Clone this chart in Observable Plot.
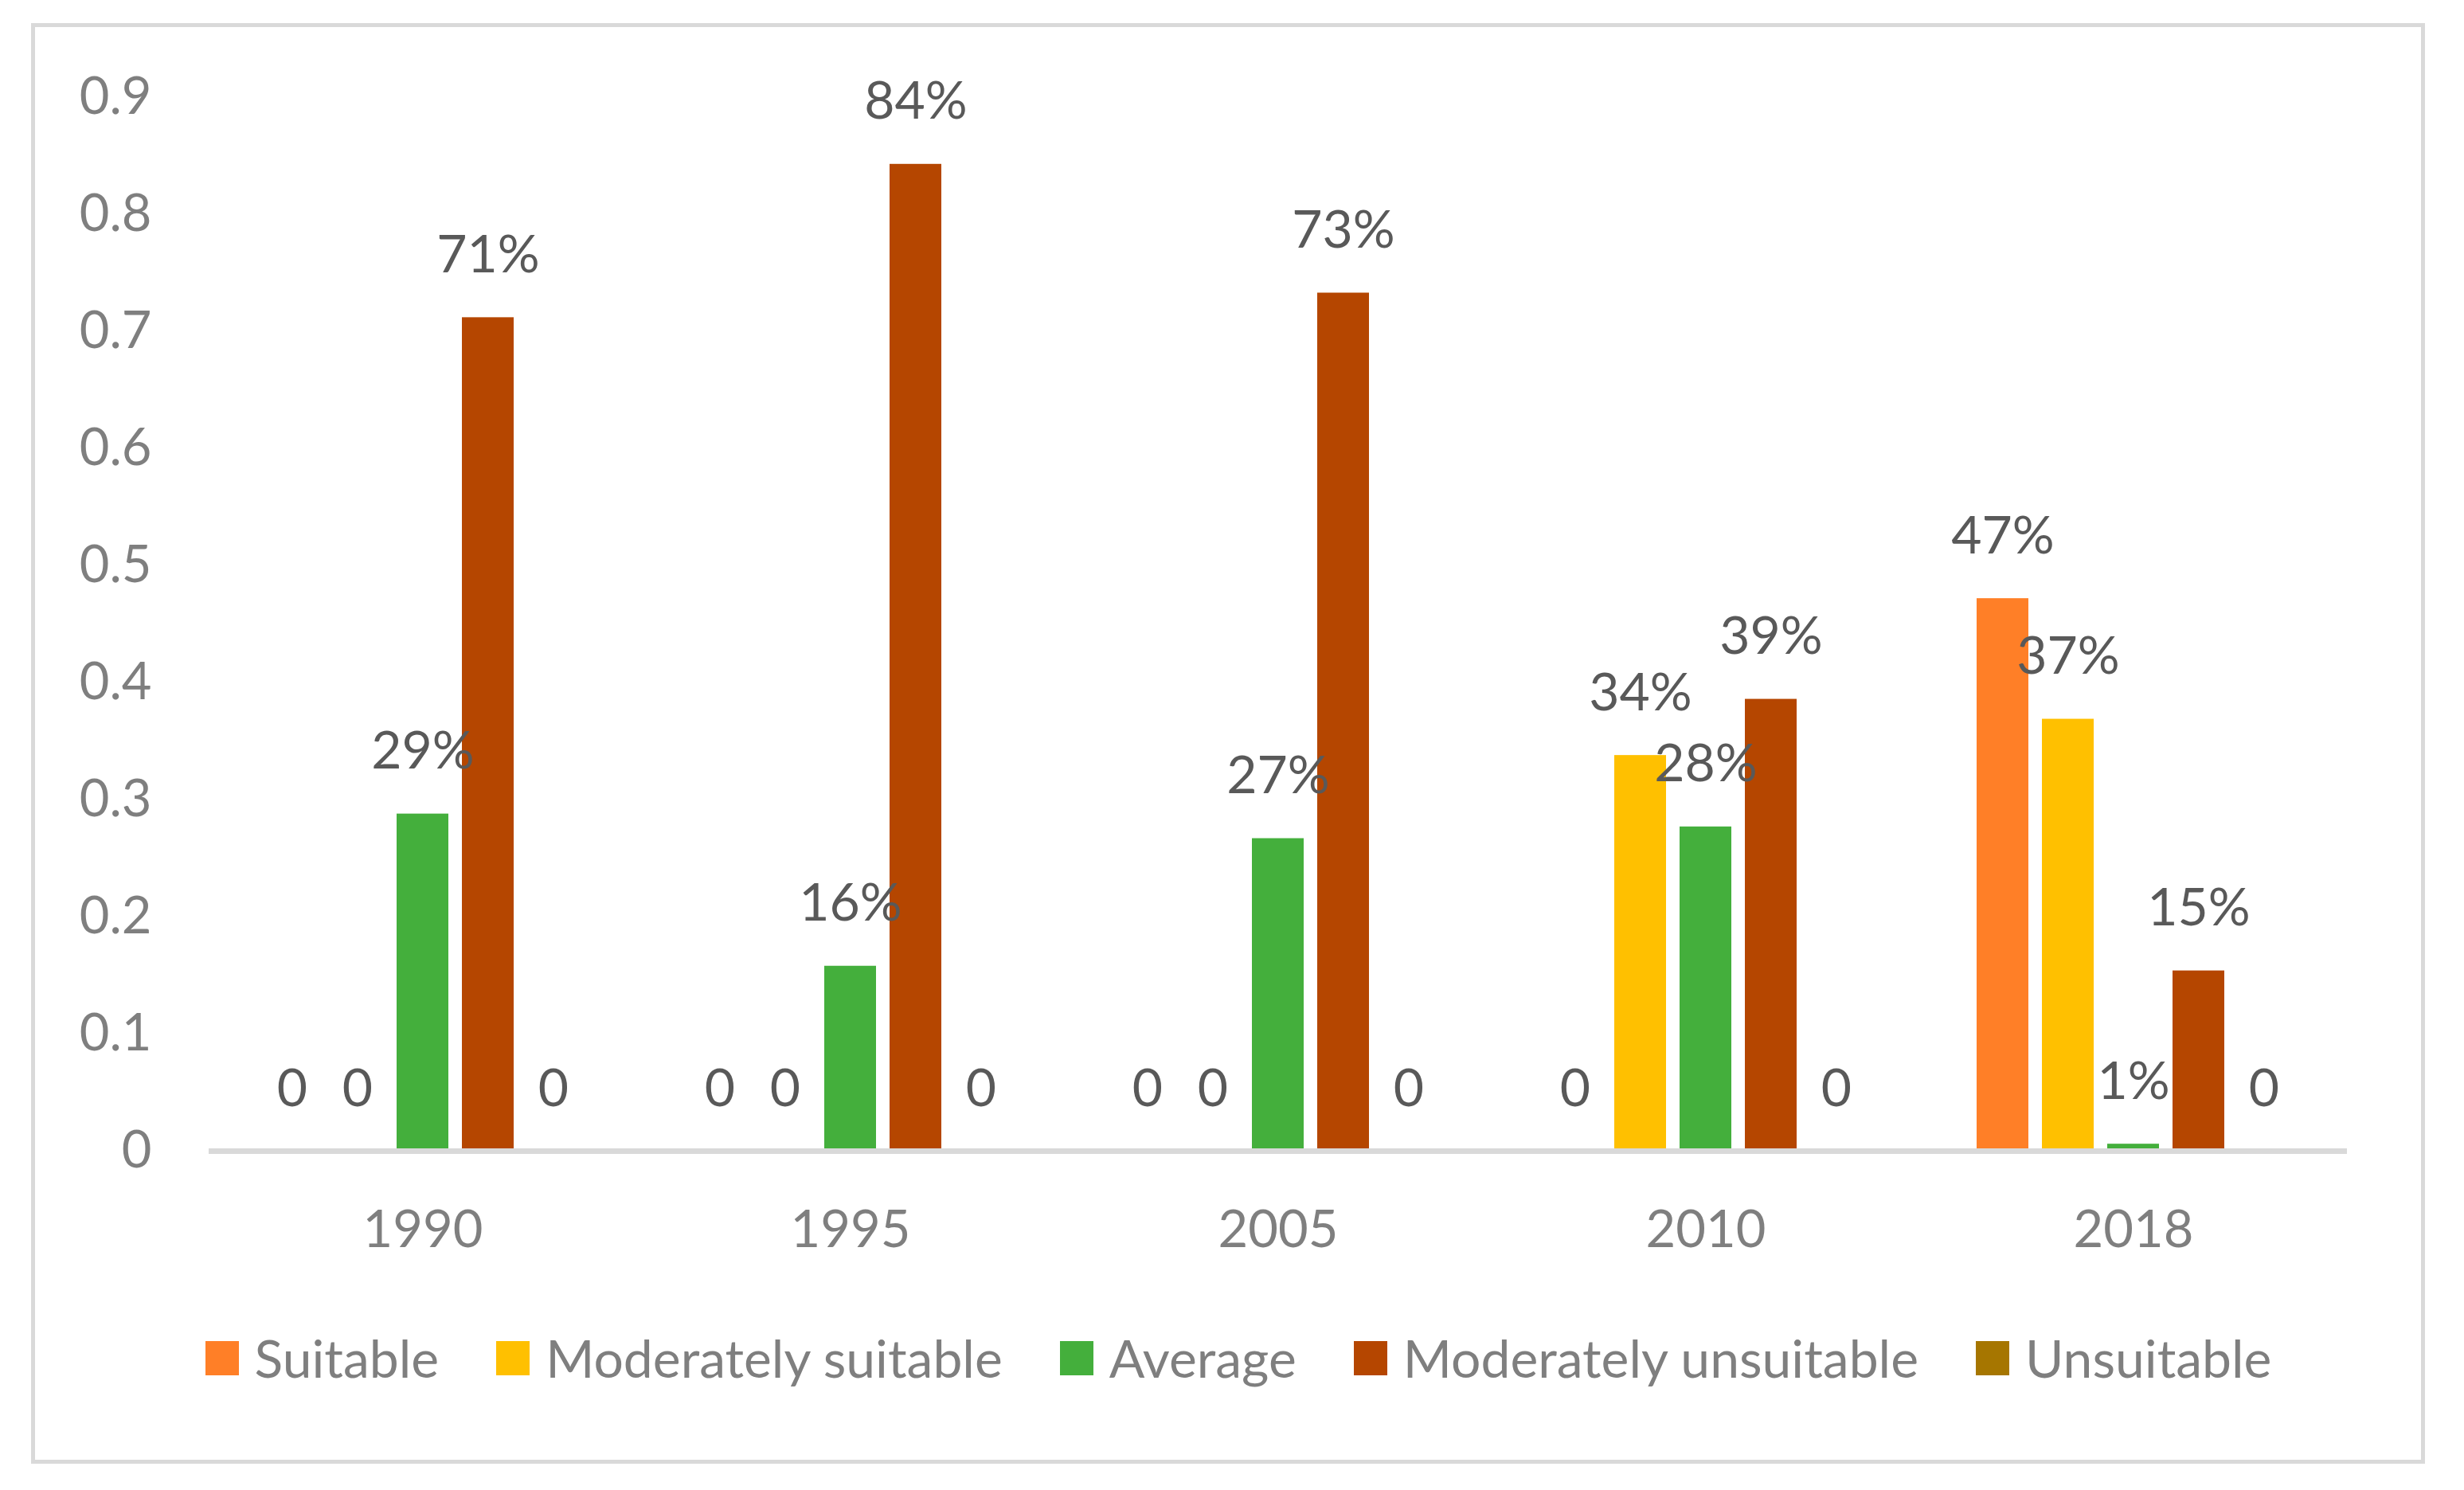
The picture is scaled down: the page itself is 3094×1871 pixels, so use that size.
<!DOCTYPE html>
<html>
<head>
<meta charset="utf-8">
<script src="https://cdn.jsdelivr.net/npm/d3@7"></script>
<script src="https://cdn.jsdelivr.net/npm/@observablehq/plot@0.6"></script>
<style>
  html, body { margin: 0; padding: 0; background: #ffffff; }
  body { width: 3094px; height: 1871px; position: relative; overflow: hidden; font-family: Lato, "Open Sans", sans-serif; }
  #wrap { position: absolute; left: 39px; top: 29px; width: 2996px; height: 1799px; border: 5px solid #d9d9d9; background: #fff; }
  #chart svg { display: block; }
  #legend { display: flex; justify-content: center; align-items: center; margin-top: 58px; padding-left: 26px; font-size: 66px; color: #7f7f7f; line-height: 1; }
  .item { display: flex; align-items: center; margin-right: 72px; }
  .item:last-child { margin-right: 0; }
  .sw { width: 42px; height: 43px; margin-right: 20px; }
</style>
</head>
<body>
<div id="wrap">
  <div id="chart"></div>
  <div id="legend"></div>
</div>
<script>
const years = ["1990", "1995", "2005", "2010", "2018"];
const series = ["Suitable", "Moderately suitable", "Average", "Moderately unsuitable", "Unsuitable"];
const colors = ["#ff7f27", "#ffc000", "#44af3c", "#b54600", "#a67600"];

const suitable      = [0, 0, 0, 0, 0.472];
const modSuitable   = [0, 0, 0, 0.338, 0.369];
const average       = [0.288, 0.158, 0.267, 0.277, 0.006];
const modUnsuitable = [0.712, 0.843, 0.733, 0.386, 0.154];
const unsuitable    = [0, 0, 0, 0, 0];

const yTicks = [0, 0.1, 0.2, 0.3, 0.4, 0.5, 0.6, 0.7, 0.8, 0.9];

const valuesBySeries = [suitable, modSuitable, average, modUnsuitable, unsuitable];
const data = [];
years.forEach((yr, i) => {
  series.forEach((s, j) => {
    data.push({year: yr, series: s, value: valuesBySeries[j][i]});
  });
});
const fmt = v => v === 0 ? "0" : Math.round(v * 100) + "%";

const plot = Plot.plot({
  width: 2996,
  height: 1580,
  marginLeft: 216,
  marginRight: 91,
  marginTop: 88,
  marginBottom: 169,
  style: {fontFamily: "Lato, 'Open Sans', sans-serif", fontSize: "65px", color: "#7f7f7f", background: "transparent"},
  fx: {domain: years, padding: 0, axis: "bottom", tickSize: 0, tickPadding: 74, label: null},
  x: {domain: series, axis: null, paddingInner: 0.205, paddingOuter: 0.842},
  y: {domain: [0, 0.9], ticks: yTicks, tickFormat: d => String(+d.toFixed(1)), tickSize: 0, tickPadding: 72, label: null},
  color: {domain: series, range: colors},
  marks: [
    Plot.barY(data, {fx: "year", x: "series", y: "value", fill: "series"}),
    Plot.ruleY([0], {stroke: "#d9d9d9", strokeWidth: 7}),
    Plot.text(data, {fx: "year", x: "series", y: "value", text: d => fmt(d.value), lineAnchor: "bottom", dy: -57, fill: "#595959", fontSize: 66})
  ]
});
document.getElementById("chart").appendChild(plot);

const legend = document.getElementById("legend");
series.forEach((s, i) => {
  const it = document.createElement("div");
  it.className = "item";
  const sw = document.createElement("div");
  sw.className = "sw";
  sw.style.background = colors[i];
  const tx = document.createElement("span");
  tx.textContent = s;
  it.appendChild(sw);
  it.appendChild(tx);
  legend.appendChild(it);
});
</script>
</body>
</html>
